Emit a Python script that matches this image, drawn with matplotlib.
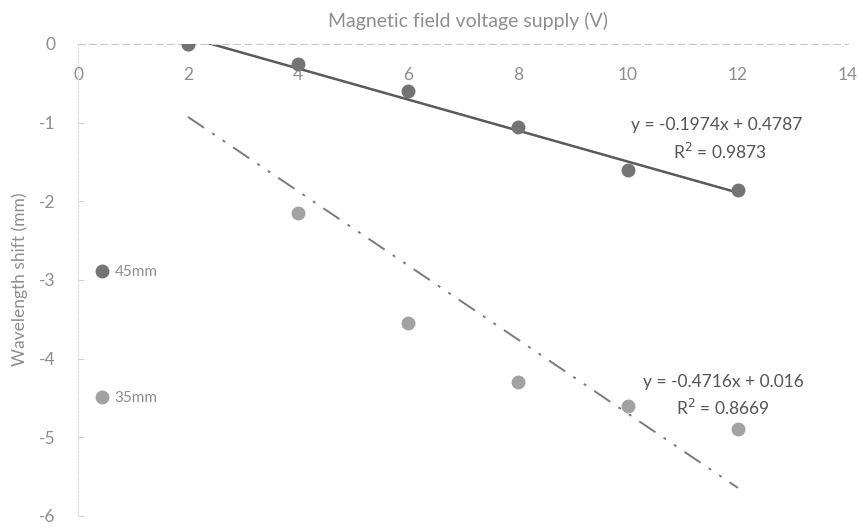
import numpy as np
import matplotlib
matplotlib.use("Agg")
import matplotlib.pyplot as plt

plt.rcParams["font.family"] = ["Lato", "DejaVu Sans"]
plt.rcParams["axes.unicode_minus"] = False

# voltage supply (V)
volts_45 = [2, 4, 6, 8, 10, 12]
volts_35 = [2, 4, 6, 8, 10, 12]
# wavelength shift (mm)
shift_45 = [0, -0.25, -0.6, -1.05, -1.6, -1.85]
shift_35 = [0, -2.15, -3.55, -4.3, -4.6, -4.9]

# trendline coefficients printed on the chart
fit_45 = [-0.1974, 0.4787]
fit_35 = [-0.4716, 0.016]
eq_45 = ["y = -0.1974x + 0.4787", "R$^2$ = 0.9873"]
eq_35 = ["y = -0.4716x + 0.016", "R$^2$ = 0.8669"]

x_ticks = [0, 2, 4, 6, 8, 10, 12, 14]
y_ticks = [0, -1, -2, -3, -4, -5, -6]

label_grey = "#8e8e8e"
text_grey = "#555555"

fig = plt.figure(figsize=(8.58, 5.30), dpi=100)
ax = fig.add_axes([78 / 858, 1 - 516 / 530, 770 / 858, 472 / 530])

# trendlines
xs45 = np.array([min(volts_45), max(volts_45)])
ax.plot(xs45, np.polyval(fit_45, xs45), color="#5a5a5a", lw=1.8, zorder=2)
xs35 = np.array([min(volts_35), max(volts_35)])
ax.plot(xs35, np.polyval(fit_35, xs35), color="#7a7a7a", lw=1.4,
        dashes=(10, 5, 1.5, 5, 1.5, 5), zorder=2)

# data points (35mm first so the shared (2, 0) point shows the darker marker)
h35, = ax.plot(volts_35, shift_35, "o", color="#a2a2a2", ms=9, label="35mm", zorder=3)
h45, = ax.plot(volts_45, shift_45, "o", color="#747474", ms=9, label="45mm", zorder=4)

ax.set_xlim(0, 14)
ax.set_ylim(-6, 0)
ax.set_xticks(x_ticks)
ax.set_yticks(y_ticks)

for side in ["right", "bottom"]:
    ax.spines[side].set_visible(False)
ax.spines["top"].set_color("#c8c8c8")
ax.spines["top"].set_linestyle((0, (6, 4)))
ax.spines["left"].set_color("#d8d8d8")
ax.spines["left"].set_linestyle((0, (1, 2)))

ax.tick_params(axis="x", top=True, bottom=False, labeltop=True, labelbottom=False,
               length=0, pad=-28, labelsize=12.5, labelcolor=label_grey)
ax.tick_params(axis="y", length=4, direction="in", color="#d0d0d0",
               pad=16, labelsize=12.5, labelcolor=label_grey)

fig.text(468 / 858, 1 - 21 / 530, "Magnetic field voltage supply (V)",
         ha="center", va="center", fontsize=14, color=label_grey)
fig.text(20 / 858, 1 - 279 / 530, "Wavelength shift (mm)", rotation=90,
         ha="center", va="center", fontsize=12.5, color=label_grey)

# trendline equations
fig.text(717 / 858, 1 - 125 / 530, eq_45[0], ha="center", va="center",
         fontsize=12.5, color=text_grey)
fig.text(720 / 858, 1 - 152 / 530, eq_45[1], ha="center", va="center",
         fontsize=12.5, color=text_grey)
fig.text(723 / 858, 1 - 382 / 530, eq_35[0], ha="center", va="center",
         fontsize=12.5, color=text_grey)
fig.text(723 / 858, 1 - 408 / 530, eq_35[1], ha="center", va="center",
         fontsize=12.5, color=text_grey)

leg = ax.legend(handles=[h45, h35], loc="center left",
                bbox_to_anchor=(96 / 858, 1 - 335 / 530),
                bbox_transform=fig.transFigure, frameon=False,
                labelspacing=7.35, handlelength=0.8, handletextpad=0.4,
                borderpad=0, borderaxespad=0, fontsize=11)
for t in leg.get_texts():
    t.set_color(label_grey)

fig.savefig("out.png", dpi=100)
